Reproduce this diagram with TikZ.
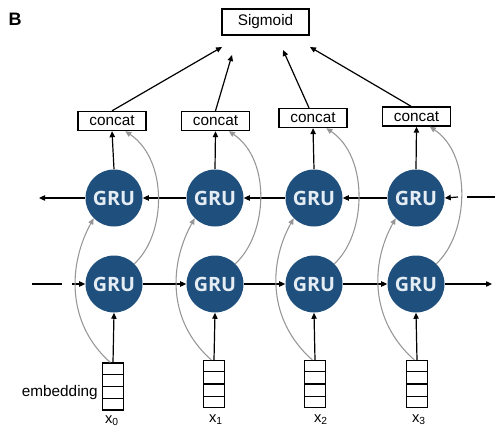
\documentclass[tikz,border=0pt]{standalone}
\usepackage{fontspec}
\setmainfont{Liberation Sans}
\newfontfamily\grufont{Open Sans}
\usetikzlibrary{arrows.meta}
\definecolor{grublue}{RGB}{31,79,125}
\definecolor{grutext}{RGB}{228,236,244}
\definecolor{curvegray}{RGB}{150,150,150}
\tikzset{
  gru/.style={circle,fill=grublue,minimum size=42.75pt,inner sep=0pt,
    font=\grufont\bfseries\fontsize{14.8}{16}\selectfont,text=grutext},
  concatbox/.style={draw=black,line width=1pt,minimum width=51pt,minimum height=14.25pt,
    inner sep=0pt,font=\fontsize{11.5}{13}\selectfont,fill=white},
  sigbox/.style={draw=black,line width=0.8pt,minimum width=65.25pt,minimum height=19.5pt,
    inner sep=0pt,font=\fontsize{11.5}{13}\selectfont},
  embbox/.style={draw=black,line width=0.8pt,minimum width=15.75pt,minimum height=35.25pt,inner sep=0pt},
  arr/.style={-{Triangle[length=4.5pt,width=4pt]},line width=0.9pt,black},
  plain/.style={line width=0.9pt,black},
  garr/.style={-{Triangle[length=4.5pt,width=4pt]},line width=0.8pt,curvegray},
  xlab/.style={font=\fontsize{11}{12}\selectfont,inner sep=0pt}
}
\begin{document}
\begin{tikzpicture}[x=0.75pt,y=-0.75pt]
\useasboundingbox (0,0) rectangle (500,439);
\node[font=\bfseries\fontsize{13.5}{15}\selectfont] (lab) at (15,19) {B};
\node[sigbox] (sig) at (265.5,22) {Sigmoid};
% concat boxes
\node[concatbox] (c0) at (112,121) {concat};
\node[concatbox] (c1) at (215.5,121) {concat};
\node[concatbox] (c2) at (313,118) {concat};
\node[concatbox] (c3) at (416.5,116.5) {concat};
% GRUs
\foreach \i/\x in {0/114,1/215,2/314,3/416}{
  \node[gru] (ug\i) at (\x,198) {GRU};
  \node[gru] (lg\i) at (\x,284) {GRU};
}
% embeddings
\foreach \i/\x/\y in {0/113/386.5,1/214/384,2/315/384,3/417/384}{
  \node[embbox] (e\i) at (\x,\y) {};
  \draw[line width=0.8pt] ([yshift=-8.8pt]e\i.north west) -- ([yshift=-8.8pt]e\i.north east);
  \draw[line width=1.1pt] (e\i.west) -- (e\i.east);
  \draw[line width=0.8pt] ([yshift=8.8pt]e\i.south west) -- ([yshift=8.8pt]e\i.south east);
}
\node[font=\fontsize{11.5}{13}\selectfont,anchor=east,inner sep=0pt] (emb) at (98,393) {embedding};
\node[xlab] (x0) at (112,421) {x\textsubscript{0}};
\node[xlab] (x1) at (216,420) {x\textsubscript{1}};
\node[xlab] (x2) at (321,420) {x\textsubscript{2}};
\node[xlab] (x3) at (419,420) {x\textsubscript{3}};
% sigmoid arrow targets
\coordinate (s0) at (222,47);
\coordinate (s1) at (232,55);
\coordinate (s2) at (283,50);
\coordinate (s3) at (310,47);
\draw[arr] (c0.north) -- (s0);
\draw[arr] (c1.north) -- (s1);
\draw[arr] ([xshift=-3pt]c2.north) -- (s2);
\draw[arr] ([xshift=-4pt]c3.north) -- (s3);
% vertical black arrows
\foreach \i in {0,1,2,3}{
  \draw[arr] (e\i.north) -- (lg\i.south);
  \draw[arr] (ug\i.north) -- (c\i.south);
}
% upper row (backward)
\coordinate (ur1) at (495,197);
\coordinate (ur2) at (467,197);
\coordinate (ur3) at (458,197);
\coordinate (ul) at (39,198);
\draw[plain] (ur1) -- (ur2);
\draw[arr] (ur3) -- (ug3.east);
\draw[arr] (ug3.west) -- (ug2.east);
\draw[arr] (ug2.west) -- (ug1.east);
\draw[arr] (ug1.west) -- (ug0.east);
\draw[arr] (ug0.west) -- (ul);
% lower row (forward)
\coordinate (ll1) at (32,284);
\coordinate (ll2) at (62,284);
\coordinate (ll3) at (72,284);
\coordinate (lr) at (492,284);
\draw[plain] (ll1) -- (ll2);
\draw[arr] (ll3) -- (lg0.west);
\draw[arr] (lg0.east) -- (lg1.west);
\draw[arr] (lg1.east) -- (lg2.west);
\draw[arr] (lg2.east) -- (lg3.west);
\draw[arr] (lg3.east) -- (lr);
% gray curves
\foreach \i in {0,1,2,3}{
  \draw[garr] ([xshift=-2pt]e\i.north) .. controls +(-45,-40) and +(-25,45) .. (ug\i.225);
  \draw[garr] (lg\i.45) .. controls +(32,-29) and +(43,29) .. ([xshift=-16pt]c\i.south east);
}
\end{tikzpicture}
\end{document}
